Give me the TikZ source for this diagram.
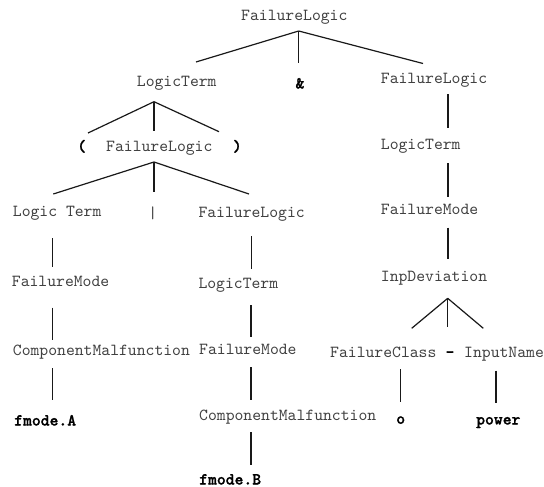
\documentclass[tikz,border=0pt]{standalone}
\usepackage{fontspec}
\setmonofont{lmmono10-regular.otf}[BoldFont=lmmonolt10-bold.otf,BoldFeatures={FakeBold=1.2}]
\usetikzlibrary{calc}
\begin{document}
\begin{tikzpicture}[x=1pt,y=-1pt,
  sym/.style={anchor=west,inner sep=0pt,text height=12pt,text depth=3pt,
    font=\ttfamily\fontsize{16.86}{19}\selectfont,text=black!75},
  term/.style={anchor=center,inner sep=0pt,text height=12pt,text depth=3pt,
    font=\ttfamily\bfseries\fontsize{16.86}{19}\selectfont,text=black},
  termw/.style={term,anchor=west},
  bar/.style={sym,anchor=center},
  edge/.style={line width=1.2pt,black!90}]
\useasboundingbox (0,0) rectangle (544,487);

% grammar symbols
\node[sym]   (root) at (241,16)     {FailureLogic};
\node[sym]   (lt1)  at (136.7,81.7) {LogicTerm};
\node[term]  (amp)  at (300,84)     {\&};
\node[sym]   (fl2)  at (380.7,79.3) {FailureLogic};
\node[term]  (lp)   at (81.7,147)   {(};
\node[sym]   (fl3)  at (106,147)    {FailureLogic};
\node[term]  (rp)   at (237.3,147)  {)};
\node[sym]   (lt2)  at (380.7,145)  {LogicTerm};
\node[sym]   (lt3)  at (12.7,211.7) {Logic Term};
\node[bar]   (bar)  at (152.7,213.5){|};
\node[sym]   (fl4)  at (198.3,213.3){FailureLogic};
\node[sym]   (fm2)  at (380.7,210)  {FailureMode};
\node[sym]   (fm1)  at (11.7,281.7) {FailureMode};
\node[sym]   (lt4)  at (198.3,284.3){LogicTerm};
\node[sym]   (inp)  at (380.7,277.3){InpDeviation};
\node[sym]   (cm1)  at (12.7,350.7) {ComponentMalfunction};
\node[sym]   (fm3)  at (199,350)    {FailureMode};
\node[sym]   (fc)   at (330,352.7)  {FailureClass};
\node[term]  (dash) at (450,352.7)  {-};
\node[sym]   (inn)  at (464,352.7)  {InputName};
\node[termw] (fa)   at (14,421)     {fmode.A};
\node[sym]   (cm2)  at (199,416)    {ComponentMalfunction};
\node[term]  (oo)   at (400.7,419.3){o};
\node[termw] (pw)   at (476,420)    {power};
\node[termw,text depth=0pt] (fb) at (199,478.5) {fmode.B};

% branching points
\coordinate (rootfork) at ($(root.west)+(57.7,15)$);
\coordinate (lt1fork)  at ($(lt1.west)+(17.3,20)$);
\coordinate (fl3fork)  at ($(fl3.west)+(48,15)$);
\coordinate (inpfork)  at ($(inp.west)+(67,21)$);

% tree edges
\draw[edge] (rootfork) -- ($(lt1.west)+(59.3,-19.7)$);
\draw[edge] (rootfork) -- ($(amp.center)+(-1.3,-21)$);
\draw[edge] (rootfork) -- ($(fl2.west)+(42.3,-15.8)$);

\draw[edge] (lt1fork) -- ($(lp.center)+(6.3,-14)$);
\draw[edge] (lt1fork) -- ($(fl3.west)+(48,-16.3)$);
\draw[edge] (lt1fork) -- ($(rp.center)+(-18.3,-15.3)$);

\draw[edge] (fl3fork) -- ($(lt3.west)+(40.6,-17.7)$);
\draw[edge] (fl3fork) -- ($(bar.center)+(1.3,-21.5)$);
\draw[edge] (fl3fork) -- ($(fl4.west)+(50.7,-19.3)$);

\draw[edge] ($(fl2.west)+(67.3,15)$) -- ($(lt2.west)+(67.3,-17.3)$);
\draw[edge] ($(lt2.west)+(67.3,18)$) -- ($(fm2.west)+(67.3,-13.3)$);
\draw[edge] ($(fm2.west)+(67.3,17.7)$) -- ($(inp.west)+(67.3,-18)$);

\draw[edge] (inpfork) -- ($(fc.west)+(81.7,-24.4)$);
\draw[edge] (inpfork) -- ($(dash.center)+(-2.3,-26)$);
\draw[edge] (inpfork) -- ($(inn.west)+(19.3,-24.4)$);

\draw[edge] ($(lt3.west)+(40,26.3)$) -- ($(fm1.west)+(41,-14.4)$);
\draw[edge] ($(fm1.west)+(41,26)$) -- ($(cm1.west)+(40,-10.7)$);
\draw[edge] ($(cm1.west)+(40,17.6)$) -- ($(fa.west)+(38.7,-21)$);

\draw[edge] ($(fl4.west)+(53.4,22.7)$) -- ($(lt4.west)+(53.4,-15.3)$);
\draw[edge] ($(lt4.west)+(52.7,20.7)$) -- ($(fm3.west)+(52,-13.3)$);
\draw[edge] ($(fm3.west)+(52,17.3)$) -- ($(cm2.west)+(52,-16)$);
\draw[edge] ($(cm2.west)+(52,16.3)$) -- ($(fb.west)+(52,-13.5)$);

\draw[edge] ($(fc.west)+(70.7,16.6)$) -- ($(oo.center)+(0,-17.6)$);
\draw[edge] ($(inn.west)+(32,18)$) -- ($(pw.west)+(20,-17.3)$);
\end{tikzpicture}
\end{document}
